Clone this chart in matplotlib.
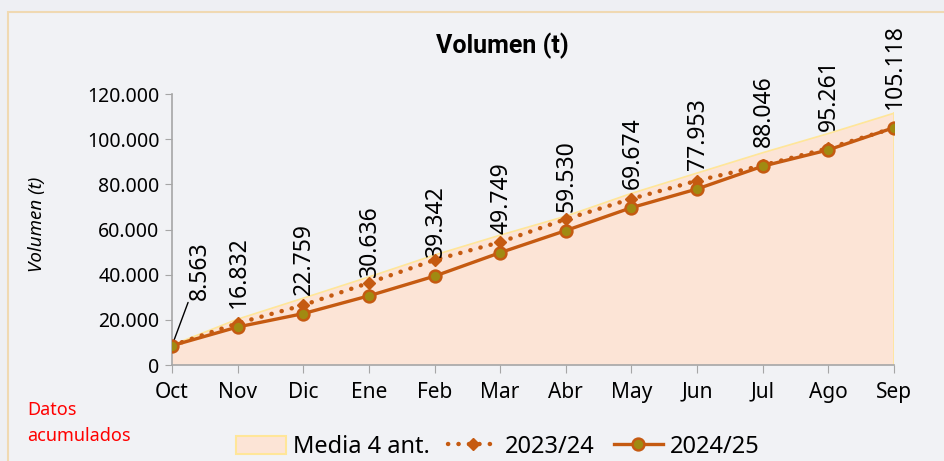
import matplotlib.pyplot as plt
import numpy as np
from matplotlib.patches import Rectangle, Patch
from matplotlib.lines import Line2D
from matplotlib.ticker import FuncFormatter

months = ['Oct', 'Nov', 'Dic', 'Ene', 'Feb', 'Mar', 'Abr', 'May', 'Jun', 'Jul', 'Ago', 'Sep']
media_4_ant = [8800, 20300, 29600, 39000, 48700, 57500, 65900, 76000, 85000, 94000, 102500, 111500]
vol_2023_24 = [8600, 18500, 26500, 36400, 46500, 54400, 64600, 73600, 81600, 88400, 96000, 105000]
vol_2024_25 = [8563, 16832, 22759, 30636, 39342, 49749, 59530, 69674, 77953, 88046, 95261, 105118]
y_ticks = [0, 20000, 40000, 60000, 80000, 100000, 120000]

plt.rcParams['font.family'] = ['Noto Sans', 'DejaVu Sans']

ORANGE = '#C55A11'
OLIVE = '#A08A12'
PEACH = '#FCE4D6'
YELLOW = '#FFE699'
DOTS = (0, (0.05, 2.3))


def miles(v, pos=None):
    return f'{int(round(v)):,}'.replace(',', '.')


fig = plt.figure(figsize=(9.45, 4.61), dpi=100, facecolor='#EEEFF3')
# chart frame
frame = Rectangle((8 / 945, -0.1), 1.1, 1 - 12 / 461 + 0.1, transform=fig.transFigure,
                  facecolor='#F1F2F5', edgecolor='#F0D9B2', linewidth=1.5, zorder=-10)
fig.patches.append(frame)

ax = fig.add_axes([172 / 945, 1 - 365 / 461, (894 - 172) / 945, (365 - 94) / 461])
ax.set_facecolor('none')
x = np.arange(len(months))

ax.fill_between(x, 0, media_4_ant, facecolor=PEACH, edgecolor='none', zorder=1)
ax.plot(x, media_4_ant, color=YELLOW, lw=1.2, zorder=2)
ax.plot([x[-1], x[-1]], [0, media_4_ant[-1]], color=YELLOW, lw=1.2, zorder=2)

ax.plot(x, vol_2023_24, color=ORANGE, lw=3.2, ls=DOTS, dash_capstyle='round',
        marker='D', markersize=6, markerfacecolor=ORANGE, markeredgecolor=ORANGE, zorder=3)
ax.plot(x, vol_2024_25, color=ORANGE, lw=2.4, marker='o', markersize=8.5,
        markerfacecolor=OLIVE, markeredgecolor=ORANGE, markeredgewidth=1.8, zorder=4)

for i, v in enumerate(vol_2024_25):
    if i == 0:
        ax.annotate(miles(v), (x[i], v), xytext=(28, 46), textcoords='offset pixels',
                    rotation=90, ha='center', va='bottom', fontsize=16.5,
                    arrowprops=dict(arrowstyle='-', color='black', lw=1, shrinkA=0, shrinkB=3))
    else:
        ax.annotate(miles(v), (x[i], v), xytext=(1, 19), textcoords='offset pixels',
                    rotation=90, ha='center', va='bottom', fontsize=16.5)

ax.set_xlim(0, len(months) - 1)
ax.set_ylim(0, 120000)
ax.set_xticks(x)
ax.set_xticklabels(months, fontsize=15)
ax.set_yticks(y_ticks)
ax.yaxis.set_major_formatter(FuncFormatter(miles))
ax.tick_params(axis='y', labelsize=14, length=5, color='#A6A6A6', pad=4)
ax.tick_params(axis='x', length=6, color='#A6A6A6', pad=6)
for s in ['top', 'right']:
    ax.spines[s].set_visible(False)
for s in ['left', 'bottom']:
    ax.spines[s].set_color('#A6A6A6')
    ax.spines[s].set_linewidth(1.2)

ax.set_ylabel('Volumen (t)', fontsize=13.5, style='italic')
ax.yaxis.set_label_coords(-0.174, 0.52)

fig.text(502 / 945, 1 - 46 / 461, 'Volumen (t)', ha='center', va='center',
         fontsize=18, fontweight='bold', family=['Roboto', 'DejaVu Sans'])

fig.text(27 / 945, 1 - 410 / 461, 'Datos', color='#FF0000', fontsize=13, va='center')
fig.text(27 / 945, 1 - 436 / 461, 'acumulados', color='#FF0000', fontsize=13, va='center')

handles = [
    Patch(facecolor=PEACH, edgecolor=YELLOW, linewidth=1.5),
    Line2D([], [], color=ORANGE, lw=3.2, ls=DOTS, dash_capstyle='round',
           marker='D', markersize=6, markerfacecolor=ORANGE, markeredgecolor=ORANGE),
    Line2D([], [], color=ORANGE, lw=2.4, marker='o', markersize=8.5,
           markerfacecolor=OLIVE, markeredgecolor=ORANGE, markeredgewidth=1.8),
]
fig.legend(handles, ['Media 4 ant.', '2023/24', '2024/25'], loc='center',
           bbox_to_anchor=(498 / 945, 1 - 447 / 461), ncol=3, frameon=False, fontsize=17,
           handlelength=2.1, handleheight=0.8, columnspacing=0.8, handletextpad=0.3)

fig.savefig('out.png', dpi=100, facecolor=fig.get_facecolor())
